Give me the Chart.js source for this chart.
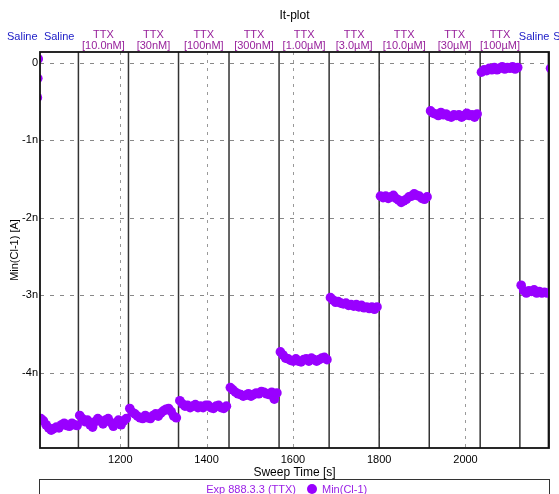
<!DOCTYPE html>
<html>
<head>
  <meta charset="utf-8">
  <title>It-plot</title>
  <script src="https://cdn.jsdelivr.net/npm/chart.js"></script>
  <style>
    body { margin: 0; background: #fff; }
    .chart-container { width: 559px; height: 494px; }
  </style>
</head>
<body>
  <div class="chart-container">
    <canvas id="itPlot"></canvas>
  </div>

  <script>
    // Sweep time axis (s) and current axis (nA)
    const xTicks = [1200, 1400, 1600, 1800, 2000];
    const yTicks = [0, -1, -2, -3, -4];
    const xMin = 1014, xMax = 2193.5;
    const yMin = -4.97, yMax = 0.14;

    // Solution periods: boundaries in sweep time, and their labels
    const segBounds = [932, 1014, 1103, 1219, 1335, 1452, 1568, 1684, 1800, 1916, 2034, 2126, 2192, 2286];
    const segNames = ['Saline', 'Saline', 'TTX', 'TTX', 'TTX', 'TTX', 'TTX', 'TTX', 'TTX', 'TTX', 'TTX', 'Saline', 'Saline'];
    const segConc = ['', '', '[10.0nM]', '[30nM]', '[100nM]', '[300nM]', '[1.00µM]', '[3.0µM]', '[10.0µM]', '[30µM]', '[100µM]', '', ''];

    // Min(Cl-1) per sweep, in nA. One sweep every 6 s, starting at the given time.
    const sweepStep = 6;
    const edgeTimes = [1008, 1009, 1010, 2197];
    const edgeValues = [-0.45, -0.2, 0.05, -0.07];

    const salineBase = [-4.59, -4.62, -4.67, -4.71, -4.74, -4.72, -4.70, -4.71, -4.67, -4.65, -4.68, -4.69, -4.65, -4.67, -4.68];
    const ttx10nM = [-4.55, -4.59, -4.63, -4.61, -4.67, -4.70, -4.63, -4.59, -4.62, -4.66, -4.61, -4.59, -4.64, -4.69, -4.65, -4.61, -4.67, -4.62, -4.59];
    const ttx30nM = [-4.46, -4.51, -4.53, -4.56, -4.58, -4.59, -4.55, -4.58, -4.59, -4.55, -4.53, -4.56, -4.52, -4.49, -4.47, -4.46, -4.50, -4.56, -4.58];
    const ttx100nM = [-4.36, -4.40, -4.43, -4.42, -4.45, -4.43, -4.41, -4.45, -4.43, -4.45, -4.42, -4.42, -4.45, -4.46, -4.43, -4.42, -4.45, -4.46, -4.43];
    const ttx300nM = [-4.19, -4.22, -4.25, -4.27, -4.28, -4.30, -4.29, -4.27, -4.30, -4.28, -4.26, -4.27, -4.24, -4.25, -4.27, -4.28, -4.25, -4.34, -4.26];
    const ttx1uM = [-3.73, -3.77, -3.81, -3.82, -3.84, -3.85, -3.82, -3.85, -3.86, -3.83, -3.82, -3.85, -3.81, -3.83, -3.85, -3.83, -3.81, -3.80, -3.83];
    const ttx3uM = [-3.03, -3.06, -3.09, -3.08, -3.10, -3.11, -3.10, -3.13, -3.12, -3.14, -3.12, -3.15, -3.13, -3.16, -3.15, -3.17, -3.15, -3.18, -3.15];
    const ttx10uM = [-1.72, -1.74, -1.72, -1.75, -1.73, -1.71, -1.75, -1.77, -1.80, -1.78, -1.76, -1.73, -1.72, -1.69, -1.71, -1.72, -1.75, -1.76, -1.73];
    const ttx30uM = [-0.62, -0.65, -0.66, -0.68, -0.64, -0.67, -0.66, -0.69, -0.70, -0.67, -0.68, -0.67, -0.70, -0.68, -0.65, -0.68, -0.67, -0.70, -0.66];
    const ttx100uM = [-0.12, -0.09, -0.10, -0.07, -0.09, -0.06, -0.09, -0.07, -0.05, -0.08, -0.06, -0.07, -0.05, -0.08, -0.06];
    const salineWash = [-2.87, -2.94, -2.97, -2.94, -2.95, -2.93, -2.97, -2.95, -2.97, -2.96, -2.97];

    const periods = [
      [1016, salineBase], [1106, ttx10nM], [1222, ttx30nM], [1338, ttx100nM],
      [1455, ttx300nM], [1571, ttx1uM], [1687, ttx3uM], [1803, ttx10uM],
      [1919, ttx30uM], [2037, ttx100uM], [2129, salineWash]
    ];

    const points = edgeTimes.map((t, i) => ({ x: t, y: edgeValues[i] }));
    periods.forEach(([start, vals]) => {
      vals.forEach((v, i) => points.push({ x: start + i * sweepStep, y: v }));
    });

    const FONT = 'Liberation Sans, Arial, sans-serif';
    Chart.defaults.font.family = FONT;
    Chart.defaults.color = '#000';

    // grid, period lines, frame, labels, title and legend box
    const decor = {
      id: 'decor',
      beforeDatasetsDraw(chart) {
        const { ctx, chartArea: a, scales: { x, y } } = chart;
        ctx.save();
        ctx.lineWidth = 1;
        ctx.strokeStyle = '#888';
        ctx.setLineDash([4, 6]);
        yTicks.forEach(v => {
          const py = Math.round(y.getPixelForValue(v)) + 0.5;
          ctx.beginPath(); ctx.moveTo(a.left, py); ctx.lineTo(a.right, py); ctx.stroke();
        });
        ctx.strokeStyle = '#999';
        ctx.setLineDash([3, 5]);
        xTicks.forEach(v => {
          const px = Math.round(x.getPixelForValue(v)) + 0.5;
          ctx.beginPath(); ctx.moveTo(px, a.top); ctx.lineTo(px, a.bottom); ctx.stroke();
        });
        ctx.setLineDash([]);
        ctx.strokeStyle = '#333';
        ctx.lineWidth = 1.5;
        segBounds.forEach(t => {
          if (t <= xMin || t >= xMax) return;
          const px = x.getPixelForValue(t);
          ctx.beginPath(); ctx.moveTo(px, a.top); ctx.lineTo(px, a.bottom); ctx.stroke();
        });
        ctx.restore();
      },
      afterDatasetsDraw(chart) {
        const { ctx, chartArea: a, scales: { x } } = chart;
        ctx.save();
        ctx.strokeStyle = '#111';
        ctx.lineWidth = 1.8;
        ctx.strokeRect(a.left, a.top, a.right - a.left, a.bottom - a.top);

        // period labels above the plot
        ctx.font = '11px ' + FONT;
        ctx.textAlign = 'center';
        ctx.textBaseline = 'middle';
        segNames.forEach((name, i) => {
          const px = x.getPixelForValue((segBounds[i] + segBounds[i + 1]) / 2);
          ctx.fillStyle = name === 'Saline' ? '#2020c8' : '#98229c';
          ctx.fillText(name, px, segConc[i] ? 35 : 37);
          if (segConc[i]) ctx.fillText(segConc[i], px, 46);
        });

        // title
        ctx.fillStyle = '#000';
        ctx.font = '12px ' + FONT;
        ctx.fillText('It-plot', (a.left + a.right) / 2, 16);

        // legend box (cut off by the bottom edge)
        ctx.strokeStyle = '#333';
        ctx.lineWidth = 1;
        ctx.strokeRect(a.left - 0.5, 479.5, a.right - a.left + 1, 30);
        ctx.font = '11px ' + FONT;
        ctx.fillStyle = '#9a1ee6';
        ctx.textAlign = 'right';
        ctx.fillText('Exp 888.3.3 (TTX)', 296, 490);
        ctx.beginPath(); ctx.arc(312, 489, 5, 0, Math.PI * 2);
        ctx.fillStyle = '#9900ff'; ctx.fill();
        ctx.fillStyle = '#9a1ee6';
        ctx.textAlign = 'left';
        ctx.fillText('Min(Cl-1)', 322, 490);
        ctx.restore();
      }
    };

    const ctx = document.getElementById('itPlot').getContext('2d');
    new Chart(ctx, {
      type: 'scatter',
      data: {
        datasets: [{
          label: 'Min(Cl-1)',
          data: points,
          backgroundColor: '#9900ff',
          borderWidth: 0,
          pointRadius: 4.8,
          pointHoverRadius: 4.8
        }]
      },
      options: {
        responsive: true,
        maintainAspectRatio: false,
        animation: false,
        layout: { padding: { top: 52, right: 10, left: 0, bottom: 0 } },
        plugins: {
          legend: { display: false },
          tooltip: { enabled: false }
        },
        scales: {
          x: {
            type: 'linear',
            min: xMin,
            max: xMax,
            grid: { display: false, drawTicks: false },
            border: { display: false },
            afterBuildTicks: s => { s.ticks = xTicks.map(v => ({ value: v })); },
            afterFit: s => { s.height = 46; },
            ticks: { padding: 5, font: { size: 11 }, color: '#000', callback: v => String(v) },
            title: { display: true, text: 'Sweep Time [s]', font: { size: 12 }, color: '#000', padding: { top: 0, bottom: 14 } }
          },
          y: {
            min: yMin,
            max: yMax,
            grid: { display: false, drawTicks: false },
            border: { display: false },
            afterBuildTicks: s => { s.ticks = yTicks.map(v => ({ value: v })); },
            afterFit: s => { s.width = 40; },
            ticks: { padding: 2, font: { size: 11 }, color: '#000', callback: v => v === 0 ? '0' : v + 'n' },
            title: { display: true, text: 'Min(Cl-1) [A]', font: { size: 11 }, color: '#000', padding: { top: 8, bottom: 0 } }
          }
        }
      },
      plugins: [decor]
    });
  </script>
</body>
</html>
